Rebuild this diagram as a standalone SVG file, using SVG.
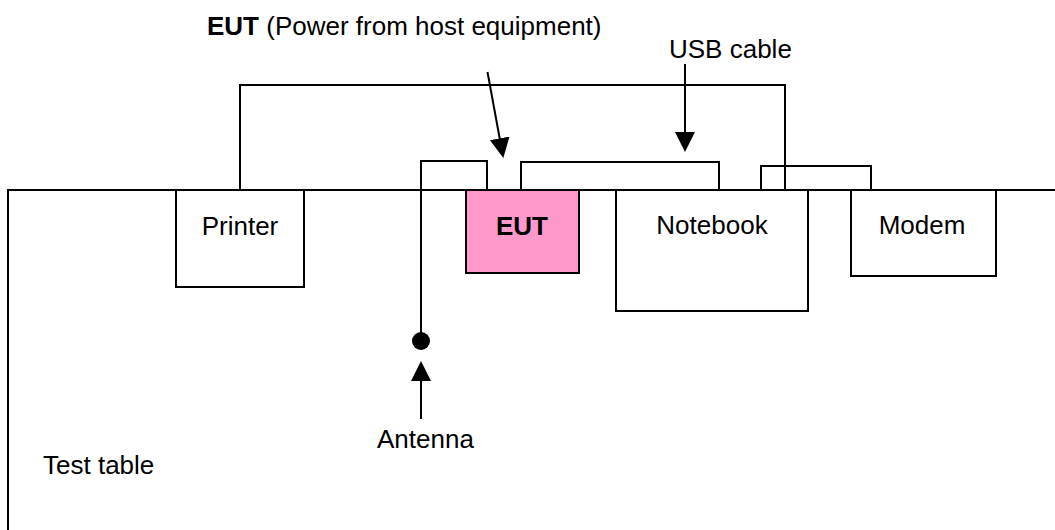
<svg xmlns="http://www.w3.org/2000/svg" width="1055" height="530" viewBox="0 0 1055 530">
<style>
.t{font-family:"Liberation Sans",Arial,sans-serif;font-size:26px;fill:#000}
.b{font-weight:bold}
.box{fill:#fff;stroke:#000;stroke-width:2}
.ln{fill:none;stroke:#000;stroke-width:2}
</style>
<defs>
<marker id="ah" markerUnits="userSpaceOnUse" markerWidth="20" markerHeight="20" refX="10" refY="10" orient="auto" viewBox="0 0 20 20">
<path d="M0,0 L20,10 L0,20 Z" fill="#000"/>
</marker>
</defs>
<rect width="1055" height="530" fill="#fff"/>
<g id="table">
<path class="ln" d="M8,530 L8,190 L1055,190"/>
<text class="t" x="43" y="474">Test table</text>
</g>
<g id="connectors">
<path class="ln" d="M240,190 L240,85 L785,85 L785,190"/>
<path class="ln" d="M421,341 L421,161 L487,161 L487,190"/>
<path class="ln" d="M521,190 L521,162 L719,162 L719,190"/>
<path class="ln" d="M761,190 L761,166 L871,166 L871,190"/>
<line class="ln" x1="487.5" y1="72" x2="501.5" y2="148.2" marker-end="url(#ah)"/>
<line class="ln" x1="685" y1="64" x2="685" y2="142" marker-end="url(#ah)"/>
<line class="ln" x1="421" y1="419" x2="421" y2="371" marker-end="url(#ah)"/>
</g>
<g id="printer">
<rect class="box" x="176" y="190" width="128" height="97"/>
<text class="t" x="240" y="235" text-anchor="middle">Printer</text>
</g>
<g id="eut">
<rect x="466" y="190" width="113" height="83" fill="#FF99CC" stroke="#000" stroke-width="2"/>
<text class="t b" x="522" y="235" text-anchor="middle">EUT</text>
</g>
<g id="notebook">
<rect class="box" x="616" y="190" width="192" height="121"/>
<text class="t" x="712" y="234" text-anchor="middle">Notebook</text>
</g>
<g id="modem">
<rect class="box" x="851" y="190" width="145" height="86"/>
<text class="t" x="922" y="234" text-anchor="middle">Modem</text>
</g>
<g id="antenna">
<circle cx="421" cy="341" r="9" fill="#000"/>
<text class="t" x="377" y="448">Antenna</text>
</g>
<g id="labels">
<text class="t" x="207" y="35"><tspan class="b">EUT</tspan> (Power from host equipment)</text>
<text class="t" x="669" y="58">USB cable</text>
</g>
</svg>
